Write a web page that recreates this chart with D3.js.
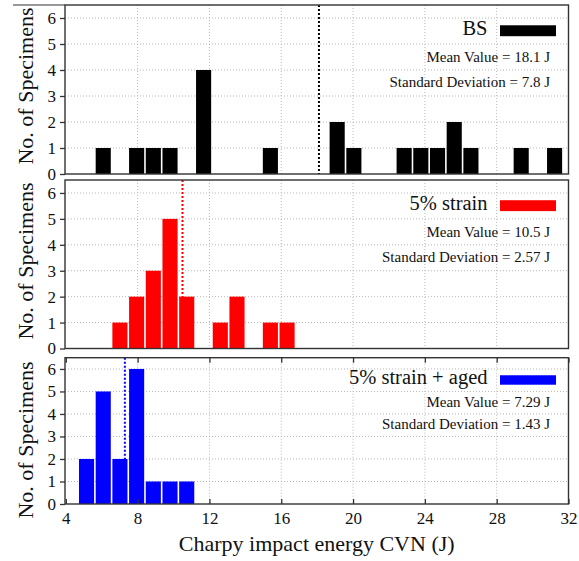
<!DOCTYPE html>
<html>
<head>
<meta charset="utf-8">
<script src="https://cdn.jsdelivr.net/npm/d3@7"></script>
<style>
  body { margin: 0; background: #fff; }
  svg { display: block; font-family: "Liberation Serif", "Times New Roman", serif; }
  .grid line { stroke: #b8b8b8; stroke-width: 1; stroke-dasharray: 1,2; }
  .axis path, .axis line { stroke: #333; stroke-width: 1.3; }
  .axis text { font-size: 17px; fill: #111; font-family: "Liberation Serif", serif; }
</style>
</head>
<body>
<div id="chart"></div>
<script>
// ---- data ----
var xTicks = [4, 8, 12, 16, 20, 24, 28, 32];
var yTicks = [0, 1, 2, 3, 4, 5, 6];
var seriesNames = ["BS", "5% strain", "5% strain + aged"];
var seriesColors = ["#000000", "#ff0000", "#0000ff"];
var meanValues = [18.1, 10.5, 7.29];
var meanLabels = ["Mean Value = 18.1 J", "Mean Value = 10.5 J", "Mean Value = 7.29 J"];
var stdLabels = ["Standard Deviation = 7.8 J", "Standard Deviation = 2.57 J", "Standard Deviation = 1.43 J"];
var binWidth = 0.93;

// left edge of each bin (J) and its count
var bsBins = [5.62, 7.48, 8.41, 9.34, 11.21, 14.93, 18.65, 19.58, 22.38, 23.31, 24.24, 25.17, 26.10, 28.90, 30.76];
var bsCounts = [1, 1, 1, 1, 4, 1, 2, 1, 1, 1, 1, 2, 1, 1, 1];
var strainBins = [6.55, 7.48, 8.41, 9.34, 10.27, 12.14, 13.07, 14.93, 15.86];
var strainCounts = [1, 2, 3, 5, 2, 1, 2, 1, 1];
var agedBins = [4.69, 5.62, 6.55, 7.48, 8.41, 9.34, 10.27];
var agedCounts = [2, 5, 2, 6, 1, 1, 1];

var binSets = [bsBins, strainBins, agedBins];
var countSets = [bsCounts, strainCounts, agedCounts];

// ---- layout ----
var W = 579, H = 561;
var left = 65, right = 568.5;
var panels = [
  { top: 5, bottom: 174, labelY: 86 },
  { top: 180, bottom: 348.5, labelY: 261 },
  { top: 357.7, bottom: 504, labelY: 440 }
];

var svg = d3.select("#chart").append("svg")
    .attr("width", W)
    .attr("height", H);

var x = d3.scaleLinear().domain([4, 32]).range([left + 0.8, right]);

panels.forEach(function(p, i) {
  var y = d3.scaleLinear().domain([0, 6.5]).range([p.bottom, p.top]);
  var g = svg.append("g");
  var color = seriesColors[i];

  // grid
  var grid = g.append("g").attr("class", "grid");
  grid.selectAll(".hg")
      .data(yTicks.filter(function(d) { return d > 0; }))
    .enter().append("line")
      .attr("x1", left).attr("x2", right)
      .attr("y1", function(d) { return y(d); })
      .attr("y2", function(d) { return y(d); });
  grid.selectAll(".vg")
      .data(xTicks.slice(1, -1))
    .enter().append("line")
      .attr("x1", function(d) { return x(d); })
      .attr("x2", function(d) { return x(d); })
      .attr("y1", p.top).attr("y2", p.bottom);

  // legend text
  g.append("text")
      .attr("x", right - 81)
      .attr("y", y(5.35))
      .attr("text-anchor", "end")
      .style("font-size", "20.5px")
      .attr("fill", "#111")
      .text(seriesNames[i]);
  g.append("rect")
      .attr("x", right - 68.5)
      .attr("y", y(5.72))
      .attr("width", 56)
      .attr("height", y(5.3) - y(5.72))
      .attr("fill", color);
  g.append("text")
      .attr("x", right - 18.5)
      .attr("y", y(4.3))
      .attr("text-anchor", "end")
      .style("font-size", "15px")
      .attr("fill", "#111")
      .text(meanLabels[i]);
  g.append("text")
      .attr("x", right - 18.5)
      .attr("y", y(3.35))
      .attr("text-anchor", "end")
      .style("font-size", "15px")
      .attr("fill", "#111")
      .text(stdLabels[i]);

  // mean line (bars are drawn over it)
  g.append("line")
      .attr("x1", x(meanValues[i])).attr("x2", x(meanValues[i]))
      .attr("y1", p.top).attr("y2", p.bottom)
      .attr("stroke", color)
      .attr("stroke-width", 2)
      .attr("stroke-dasharray", "2,2");

  // bars
  var bins = binSets[i].map(function(b, k) { return { x0: b, n: countSets[i][k] }; });
  g.selectAll(".bar")
      .data(bins)
    .enter().append("rect")
      .attr("x", function(d) { return x(d.x0) + 0.8; })
      .attr("width", function(d) { return x(d.x0 + binWidth) - x(d.x0) - 1.6; })
      .attr("y", function(d) { return y(d.n); })
      .attr("height", function(d) { return y(0) - y(d.n); })
      .attr("fill", color);

  // frame
  g.append("rect")
      .attr("x", left).attr("y", p.top)
      .attr("width", right - left).attr("height", p.bottom - p.top)
      .attr("fill", "none")
      .attr("stroke", "#333")
      .attr("stroke-width", 1.4);

  // y axis
  g.append("g")
      .attr("class", "axis")
      .attr("transform", "translate(" + left + ",0)")
      .call(d3.axisLeft(y).tickValues(yTicks).tickFormat(d3.format("d")).tickSize(5).tickPadding(4))
    .select(".domain").remove();

  // y label
  g.append("text")
      .attr("transform", "translate(33," + p.labelY + ") rotate(-90)")
      .attr("text-anchor", "middle")
      .style("font-size", "22px")
      .attr("fill", "#111")
      .text("No. of Specimens");

  if (i == 2) {
    // inward x ticks top and bottom, labels below
    g.append("g")
        .attr("class", "axis")
        .attr("transform", "translate(0," + p.bottom + ")")
        .call(d3.axisBottom(x).tickValues(xTicks).tickSizeInner(-5).tickSizeOuter(0).tickPadding(8))
      .select(".domain").remove();
    g.append("g")
        .attr("class", "axis")
        .attr("transform", "translate(0," + p.top + ")")
        .call(d3.axisTop(x).tickValues(xTicks).tickSizeInner(-5).tickSizeOuter(0).tickFormat(""))
      .select(".domain").remove();
  }
});

// top border runs out over the label (as in the source figure)
svg.append("line")
    .attr("x1", 13).attr("x2", left)
    .attr("y1", 5).attr("y2", 5)
    .attr("stroke", "#333").attr("stroke-width", 1.2);

svg.append("text")
    .attr("x", (left + right) / 2)
    .attr("y", 551)
    .attr("text-anchor", "middle")
    .style("font-size", "22px")
    .attr("fill", "#111")
    .text("Charpy impact energy CVN (J)");
</script>
</body>
</html>
